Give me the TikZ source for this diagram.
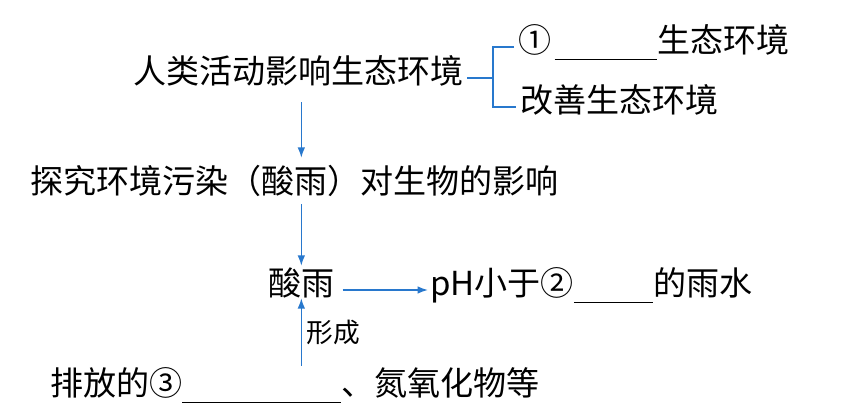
\documentclass[tikz,border=0pt]{standalone}
\usepackage{fontspec}
\setmainfont{Noto Sans CJK SC}
\usetikzlibrary{arrows.meta}
\definecolor{linkblue}{RGB}{40,120,205}
\newcommand{\blank}[1]{\rule[-0.22em]{#1}{0.6pt}}

\begin{document}
\begin{tikzpicture}[x=0.025cm, y=-0.025cm,
  >={Latex[length=2.6mm, width=1.9mm]},
  txt/.style={anchor=west, inner sep=0pt, text height=0.8em, text depth=0.04em,
    font=\fontsize{23.5}{28}\selectfont},
  link/.style={linkblue, line width=1.1pt}]
  \useasboundingbox (0,0) rectangle (843,420);
  % texts
  \node[txt] (human) at (133,78) {人类活动影响生态环境};
  \node[txt] (opt1)  at (518,47) {①\hspace{0.1em}\blank{3.1em}生态环境};
  \node[txt] (opt2)  at (520,107) {改善生态环境};
  \node[txt] (probe) at (30,188) {探究环境污染（酸雨）对生物的影响};
  \node[txt] (acid)  at (268,290) {酸雨};
  \node[txt] (ph)    at (430,290) {pH小于②\blank{2.4em}的雨水};
  \node[txt] (emit)  at (50,390) {排放的③\blank{4.8em}、氮氧化物等};
  \node[txt, font=\fontsize{19}{23}\selectfont] (form) at (306,337) {形成};
  % bracket
  \coordinate (fork) at (493,78);
  \draw[link, shorten <=0.75mm] (human.east) -- (fork);
  \draw[link] ([xshift=-1mm]opt1.west) -| (fork) |- ([xshift=-1mm]opt2.west);
  % arrows
  \draw[link, ->, shorten <=4.5mm, shorten >=6mm] (human.south -| acid) -- (probe.north -| acid);
  \draw[link, ->, shorten <=2.5mm, shorten >=4.5mm] (probe.south -| acid) -- (acid.north);
  \draw[link, ->, shorten <=2mm, shorten >=0.5mm] (acid.east) -- (ph.west);
  \draw[link, ->, shorten <=4.5mm, shorten >=0.5mm] (emit.north -| acid) -- (acid.south);
\end{tikzpicture}
\end{document}
